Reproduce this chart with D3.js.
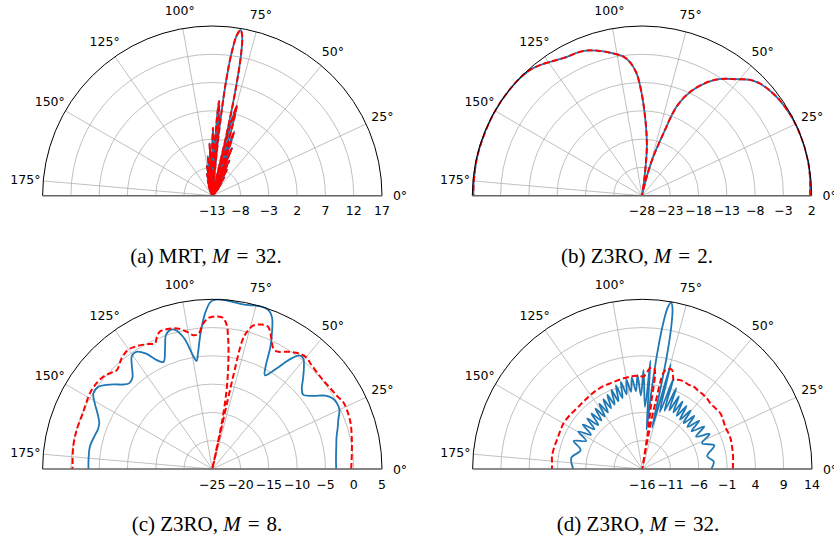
<!DOCTYPE html>
<html><head><meta charset="utf-8">
<script src="https://cdn.jsdelivr.net/npm/d3@7"></script>
<style>body{margin:0;background:#fff} svg{display:block}</style>
</head><body><svg id="c" width="834" height="546"></svg>
<script>
const thetaTicks = [0,25,50,75,100,125,150,175];
const rTicksA = [-13,-8,-3,2,7,12,17];
const rTicksB = [-28,-23,-18,-13,-8,-3,2];
const rTicksC = [-25,-20,-15,-10,-5,0,5];
const rTicksD = [-16,-11,-6,-1,4,9,14];
const captions = [["(a) MRT, ","M","\u2004=\u200432."],["(b) Z3RO, ","M","\u2004=\u20042."],["(c) Z3RO, ","M","\u2004=\u20048."],["(d) Z3RO, ","M","\u2004=\u200432."]];

// (a) MRT, M=32 : [angle deg, gain dB] (blue and red coincide)
const mrtA = [[43.7,-20],[45.6,-12.2],[47.5,-20],[49.4,-11.3],[51.2,-20],[53.1,-10.3],[55,-20],[56.8,-9.1],[58.6,-20],[60.4,-7.7],[62.2,-20],[64.0,-6.1],[65.8,-20],[67.6,-3.9],[69.4,-20],[70.5,-4.5],[71.2,-1.0],[71.9,-4.5],[73.0,-20],[73.9,-0.3],[74.8,3.5],[75.7,-0.3],[76.5,-20],[76.9,-2],[77.6,6],[78.5,12.5],[79.4,15.7],[80.3,16.7],[81.3,15.7],[82.3,12.5],[83.2,7],[84.0,-1.5],[84.5,-20],[85.2,0],[85.9,3.8],[86.7,0],[87.6,-20],[88.7,-4.5],[89.4,-1.0],[90.1,-4.5],[91.2,-20],[93.0,-3.8],[94.8,-20],[96.6,-6.0],[98.4,-20],[100.2,-7.6],[102,-20],[103.8,-9.0],[105.6,-20],[107.5,-10.2],[109.4,-20],[111.3,-11.2],[113.2,-20],[115.2,-12.1],[117,-20]];

// (b) Z3RO, M=2
const z3roB = [[0,1.7],[5,1.85],[12,2.0],[20,2.0],[28,1.9],[35,1.6],[40,1.2],[44,0.7],[47,0],[51,-1.5],[56,-3.1],[60,-4.8],[65,-7.7],[68.7,-11],[71,-16.3],[74,-21],[76,-24.5],[78,-27],[80,-30],[82,-25],[84,-20],[85.5,-17.5],[87.8,-14],[90.2,-9.9],[92.5,-6.4],[95,-4.4],[97.6,-3.2],[102.6,-2.1],[107,-1.2],[112,-0.4],[119.5,0.0],[124.5,0.7],[128,1.3],[132,1.8],[138,2.0],[150,2.0],[165,1.95],[175,1.85],[180,1.8]];

// (c) Z3RO, M=8
const blueC = [[0,-3.1],[5,-3.05],[10,-2.75],[14.6,-2.3],[18,-1.7],[21.3,-1.1],[25,-0.2],[28,-0.1],[30.5,-0.35],[33,-1.2],[36,-3.0],[39.3,-4.25],[42,-3.7],[45,-2.3],[48,-0.8],[50.5,0.3],[52.5,0.3],[55,-1.5],[57.5,-4.0],[60.7,-6.0],[62.5,-4.6],[64.5,-1.2],[66.5,1.5],[68.5,3.8],[70.5,4.8],[73,5.0],[76,4.8],[79,4.6],[82,4.7],[85,4.9],[88,5.0],[90.5,4.6],[92.7,2.5],[95,-1.0],[97,-4.3],[98.3,-5.7],[99.8,-4.5],[102,-1.5],[104.5,0.3],[106.5,0.7],[109,0.1],[111.5,-2.2],[114.5,-4.2],[117,-3.4],[120,-1.4],[123,-0.3],[125.5,-0.5],[128,-1.9],[131,-3.5],[134,-3.9],[136.5,-3.3],[139,-2.2],[141.5,-1.1],[144,-0.2],[147.6,-0.1],[150.8,-1.2],[154,-2.4],[158,-3.45],[161,-3.6],[164,-3.4],[169.7,-3.0],[175,-3.05],[180,-3.1]];
const redC = [[0,-0.45],[6,-0.2],[13,0.3],[19,0.8],[24,1.0],[27,1.0],[30,0.6],[34,0.3],[38.7,0.1],[43,0.2],[47.3,0.5],[49.6,0.8],[53.4,0.5],[57,-0.3],[61.3,-1.3],[63.5,-1.0],[65.3,0.1],[67,1.2],[68.5,2.0],[71,2.0],[74,1.4],[75.8,0],[76.8,-1.5],[77.3,-8],[77.8,-30],[78.5,-16],[80,-10],[82,-4.4],[83.2,-1.5],[84.3,0.6],[86,1.8],[88,2.0],[90,1.9],[91.5,1.7],[93.5,0.8],[95.9,-1.0],[98.1,-1.1],[100.6,-0.3],[104,0.6],[108.1,1.0],[110.9,1.0],[112.8,0.3],[114.5,-0.6],[117,-0.2],[121.6,0.5],[125.2,0.8],[129.3,0.3],[134,-0.7],[136.5,-0.3],[139.7,0.25],[144.4,0.5],[148.3,0.45],[151.8,0.2],[155,0],[158.2,-0.1],[164,-0.05],[170.9,-0.1],[180,-0.3]];

// (d) Z3RO, M=32
const blueD = [[0,-3.8],[6,-3.3],[11.2,-4.3],[18.2,-2.6],[23.3,-4.5],[27.5,-2.6],[31.1,-4.9],[34.4,-2.7],[37.5,-5.0],[40.3,-2.8],[43.0,-5.1],[45.6,-2.85],[48.0,-5.1],[50.4,-2.6],[52.7,-5.0],[54.9,-2.4],[57.1,-4.8],[59.2,-2.1],[61.2,-4.6],[63.3,-1.6],[65.3,-4.6],[67.2,-0.5],[69.1,-5.0],[71.0,1.0],[72.9,-5.5],[74.8,3.2],[76.6,-8.5],[77.2,-2],[77.8,5],[78.6,10.2],[79.4,13.0],[80.2,13.9],[81.0,13.0],[81.8,10.2],[82.6,5],[83.3,-2],[83.9,-9],[85.7,3.2],[87.5,-5],[89.3,1.5],[91.1,-3],[92.9,0.6],[94.7,-2.2],[96.5,0.3],[98.3,-2.2],[100.1,0.1],[101.9,-2.5],[103.8,-0.15],[105.6,-3.0],[107.5,-0.5],[109.4,-3.3],[111.3,-1.0],[113.2,-3.6],[115.2,-1.5],[117.2,-3.9],[119.2,-1.9],[121.3,-4.3],[123.4,-2.2],[125.6,-4.6],[127.8,-2.5],[130.1,-4.8],[132.5,-2.7],[135.0,-5.0],[137.5,-2.8],[140.3,-5.0],[143.2,-2.85],[146.3,-5.1],[149.6,-2.9],[153.4,-4.9],[157.7,-2.9],[163.0,-4.6],[171.0,-3.3],[180,-3.8]];
const redD = [[0,0.0],[8,0.2],[14,0.35],[19,0.5],[22.4,0.5],[27,0.45],[31,0.7],[35.5,0.95],[40,0.8],[44,0.72],[47,0.9],[50.4,1.0],[54,1.0],[58,1.15],[61,1.0],[64.7,1.1],[68,1.0],[70.3,0.6],[73.3,2.3],[76,2.2],[77.5,1.5],[78.8,-4],[79.8,-10],[80.6,-20],[81.4,-10],[82.3,-4],[83.2,1.9],[85.5,1.9],[87.5,1.0],[89.2,0.33],[92,0.5],[95.3,0.52],[98,0.45],[101.6,0.37],[106,0.25],[110.5,0.17],[115,0.2],[119.8,0.1],[124,0.0],[128,-0.13],[132,-0.2],[137.1,-0.23],[143,-0.05],[149.9,0.09],[155,0.0],[161.2,-0.06],[166,0.05],[172.2,0.12],[176,0.0],[180,-0.03]];

const R = 169.7;
const panels = [
  {cx:212.3, cy:195.7, ticks:rTicksA, blue:mrtA, red:mrtA, cap:captions[0], capX:206, capY:263},
  {cx:642.0, cy:195.7, ticks:rTicksB, blue:z3roB, red:z3roB, cap:captions[1], capX:637, capY:263},
  {cx:212.3, cy:469.0, ticks:rTicksC, blue:blueC, red:redC, cap:captions[2], capX:207, capY:531},
  {cx:642.3, cy:469.0, ticks:rTicksD, blue:blueD, red:redD, cap:captions[3], capX:638, capY:531}
];

const svg = d3.select("#c");
const rad = d => d*Math.PI/180;
const fmt = v => (v<0 ? "\u2212"+Math.abs(v) : String(v));

panels.forEach((p,i) => {
  const g = svg.append("g").attr("transform",`translate(${p.cx},${p.cy})`);
  const rmin = p.ticks[0], rmax = p.ticks[p.ticks.length-1];
  const r = d3.scaleLinear().domain([rmin,rmax]).range([0,R]);
  const clipId = "clip"+i;
  const cp = d3.path(); cp.moveTo(R+1,0); cp.arc(0,0,R+1,0,-Math.PI,true); cp.closePath();
  g.append("clipPath").attr("id",clipId).append("path").attr("d",cp.toString());

  p.ticks.slice(1,-1).forEach(t => {
    const pa = d3.path(); pa.moveTo(r(t),0); pa.arc(0,0,r(t),0,-Math.PI,true);
    g.append("path").attr("d",pa.toString()).attr("fill","none").attr("stroke","#b0b0b0").attr("stroke-width",0.8);
  });
  thetaTicks.forEach(a => {
    g.append("line").attr("x1",0).attr("y1",0)
      .attr("x2",R*Math.cos(rad(a))).attr("y2",-R*Math.sin(rad(a)))
      .attr("stroke","#b0b0b0").attr("stroke-width",0.8);
  });

  const line = d3.lineRadial()
    .angle(d => rad(90-d[0]))
    .radius(d => r(Math.max(rmin, Math.min(rmax, d[1]))))
    .curve(d3.curveCatmullRom.alpha(0.5));
  const lg = g.append("g").attr("clip-path",`url(#${clipId})`);
  lg.append("path").attr("d",line(p.blue)).attr("fill","none")
    .attr("stroke","#1f77b4").attr("stroke-width",1.8).attr("stroke-linejoin","round");
  lg.append("path").attr("d",line(p.red)).attr("fill","none")
    .attr("stroke","#ff0000").attr("stroke-width",2).attr("stroke-dasharray","6,3");

  const oa = d3.path(); oa.moveTo(R,0); oa.arc(0,0,R,0,-Math.PI,true);
  g.append("path").attr("d",oa.toString()).attr("fill","none").attr("stroke","#000").attr("stroke-width",1);
  g.append("line").attr("x1",-R).attr("x2",R).attr("y1",0).attr("y2",0).attr("stroke","#666").attr("stroke-width",1.6);

  thetaTicks.forEach(a => {
    g.append("text").attr("x",(R+18)*Math.cos(rad(a))).attr("y",-(R+18)*Math.sin(rad(a)))
      .attr("text-anchor","middle").attr("dominant-baseline","central")
      .attr("font-family","DejaVu Sans").attr("font-size",12.5).text(a+"\u00b0");
  });
  p.ticks.forEach(t => {
    g.append("text").attr("x",r(t)).attr("y",15).attr("text-anchor","middle").attr("dominant-baseline","central")
      .attr("font-family","DejaVu Sans").attr("font-size",12.5).text(fmt(t));
  });

  const tx = svg.append("text").attr("x",p.capX).attr("y",p.capY).attr("text-anchor","middle")
    .attr("font-family","Liberation Serif, Times New Roman, serif").attr("font-size",21);
  tx.append("tspan").text(p.cap[0]);
  tx.append("tspan").attr("font-style","italic").text(p.cap[1]);
  tx.append("tspan").text(p.cap[2]);
});
</script></body></html>
